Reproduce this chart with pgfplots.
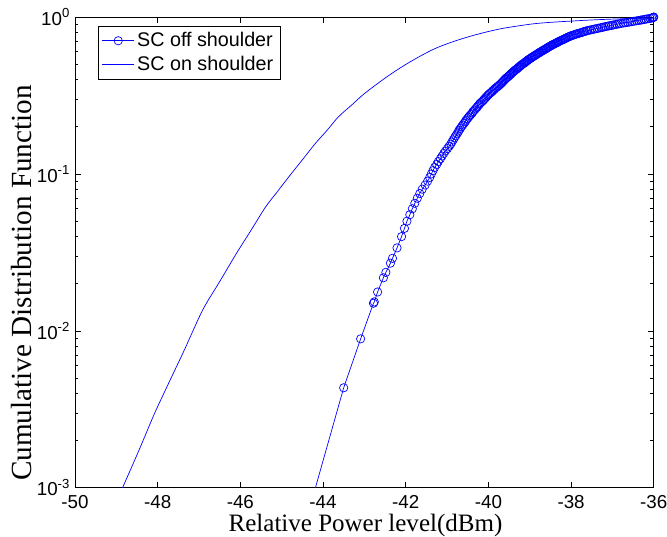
\documentclass[border=0pt]{standalone}
\usepackage{fontspec}
\setmainfont{Liberation Serif}
\setsansfont{Liberation Sans}
\usepackage{pgfplots}
\pgfplotsset{compat=1.18}

\begin{document}
\begin{tikzpicture}
\begin{axis}[
    scale only axis,
    width=416.5pt, height=338.8pt,
    ymode=log,
    xmin=-50, xmax=-36,
    ymin=1e-3, ymax=1,
    xtick={-50,-48,-46,-44,-42,-40,-38,-36},
    ytick={1e-3,1e-2,1e-1,1},
    yticklabels={10\textsuperscript{-3},10\textsuperscript{-2},10\textsuperscript{-1},10\textsuperscript{0}},
    /pgf/number format/assume math mode=true,
    tick label style={font=\sffamily\fontsize{13.5}{13.5}\selectfont},
    xticklabel style={yshift=-2.2pt},
    major tick length=4.3pt,
    minor tick length=2.5pt,
    axis line style={line width=0.6pt},
    every tick/.style={black, line width=0.5pt},
    xlabel={Relative Power level(dBm)},
    ylabel={Cumulative Distribution Function},
    xlabel style={font=\fontsize{18}{18}\selectfont, at={(axis description cs:0.502,-0.092)}, anchor=base},
    ylabel style={font=\fontsize{21}{21}\selectfont, at={(axis description cs:-0.093,0.435)}, anchor=center},
    legend style={at={(axis description cs:0.039,0.981)}, anchor=north west,
        draw=black, line width=0.5pt, fill=white,
        font=\sffamily\fontsize{14.2}{14.2}\selectfont,
        inner xsep=3pt, inner ysep=2.5pt, row sep=1.5pt, cells={anchor=west}},
    legend image code/.code={%
        \draw[mark repeat=2,mark phase=2,#1] plot coordinates {(0cm,0cm) (0.4cm,0cm) (0.8cm,0cm)};},
]

% SC off shoulder (empirical CDF, markers)
\addplot[blue, line width=0.5pt, mark=o, mark size=3pt, mark options={line width=0.5pt}] coordinates {
(-44.60,0.00041) (-43.50,0.00434) (-43.09,0.0089) (-42.78,0.0150) (-42.76,0.0153)
(-42.68,0.0177) (-42.54,0.0218) (-42.48,0.0236) (-42.37,0.0270) (-42.32,0.0290)
(-42.21,0.0338) (-42.10,0.0399) (-42.03,0.045)
(-41.97,0.050) (-41.90,0.055) (-41.84,0.060) (-41.78,0.065) (-41.72,0.070)
(-41.66,0.075) (-41.60,0.080) (-41.53,0.085) (-41.47,0.090) (-41.42,0.095)
(-41.38,0.100) (-41.34,0.105) (-41.30,0.110) (-41.25,0.115) (-41.21,0.120)
(-41.16,0.125) (-41.12,0.130) (-41.08,0.135) (-41.04,0.140) (-40.99,0.145)
(-40.95,0.150) (-40.91,0.155) (-40.88,0.160) (-40.85,0.165) (-40.82,0.170)
(-40.79,0.175) (-40.76,0.180) (-40.73,0.185) (-40.71,0.190) (-40.68,0.195)
(-40.65,0.200) (-40.62,0.205) (-40.59,0.210) (-40.56,0.215) (-40.54,0.220)
(-40.51,0.225) (-40.48,0.230) (-40.45,0.235) (-40.42,0.240) (-40.39,0.245)
(-40.37,0.250) (-40.34,0.255) (-40.31,0.260) (-40.28,0.265) (-40.26,0.270)
(-40.23,0.275) (-40.21,0.280) (-40.18,0.285) (-40.15,0.290) (-40.12,0.295)
(-40.10,0.300) (-40.07,0.305) (-40.05,0.310) (-40.02,0.315) (-40.00,0.320)
(-39.97,0.325) (-39.94,0.330) (-39.91,0.335) (-39.89,0.340) (-39.86,0.345)
(-39.84,0.350) (-39.81,0.355) (-39.78,0.360) (-39.75,0.365) (-39.73,0.370)
(-39.70,0.375) (-39.68,0.380) (-39.66,0.385) (-39.64,0.390) (-39.62,0.395)
(-39.60,0.400) (-39.58,0.405) (-39.56,0.410) (-39.53,0.415) (-39.51,0.420)
(-39.49,0.425) (-39.47,0.430) (-39.45,0.435) (-39.43,0.440) (-39.41,0.445)
(-39.39,0.450) (-39.37,0.455) (-39.35,0.460) (-39.32,0.465) (-39.30,0.470)
(-39.28,0.475) (-39.26,0.480) (-39.24,0.485) (-39.22,0.490) (-39.20,0.495)
(-39.18,0.500) (-39.15,0.505) (-39.13,0.510) (-39.11,0.515) (-39.09,0.520)
(-39.07,0.525) (-39.05,0.530) (-39.03,0.535) (-39.01,0.540) (-38.98,0.545)
(-38.96,0.550) (-38.94,0.555) (-38.92,0.560) (-38.89,0.565) (-38.87,0.570)
(-38.85,0.575) (-38.83,0.580) (-38.80,0.585) (-38.78,0.590) (-38.76,0.595)
(-38.74,0.600) (-38.71,0.605) (-38.69,0.610) (-38.67,0.615) (-38.65,0.620)
(-38.62,0.625) (-38.60,0.630) (-38.58,0.635) (-38.56,0.640) (-38.54,0.645)
(-38.52,0.650) (-38.49,0.655) (-38.47,0.660) (-38.45,0.665) (-38.43,0.670)
(-38.40,0.675) (-38.38,0.680) (-38.35,0.685) (-38.33,0.690) (-38.31,0.695)
(-38.29,0.700) (-38.26,0.705) (-38.24,0.710) (-38.21,0.715) (-38.19,0.720)
(-38.16,0.725) (-38.14,0.730) (-38.12,0.735) (-38.10,0.740) (-38.07,0.745)
(-38.05,0.750) (-38.02,0.755) (-38.00,0.760) (-37.96,0.765) (-37.93,0.770)
(-37.90,0.775) (-37.87,0.780) (-37.83,0.785) (-37.80,0.790) (-37.76,0.795)
(-37.73,0.800) (-37.70,0.805) (-37.67,0.810) (-37.63,0.815) (-37.60,0.820)
(-37.55,0.825) (-37.51,0.830) (-37.46,0.835) (-37.42,0.840) (-37.37,0.845)
(-37.33,0.850) (-37.28,0.855) (-37.24,0.860) (-37.20,0.865) (-37.16,0.870)
(-37.11,0.875) (-37.07,0.880) (-37.02,0.885) (-36.98,0.890) (-36.93,0.895)
(-36.89,0.900) (-36.84,0.905) (-36.80,0.910) (-36.74,0.915) (-36.69,0.920)
(-36.63,0.925) (-36.58,0.930) (-36.53,0.935) (-36.48,0.940) (-36.42,0.945)
(-36.37,0.950) (-36.32,0.955) (-36.28,0.960) (-36.23,0.965) (-36.19,0.970)
(-36.14,0.975) (-36.09,0.980) (-36.05,0.985) (-36.02,0.990) (-36.01,0.995)
(-36.00,1.000)
};
\addlegendentry{SC off shoulder}

% SC on shoulder
\addplot[blue, line width=0.5pt, smooth, tension=0.5] coordinates {
(-49.20,0.00062) (-48.85,0.0010) (-48.45,0.00174) (-48.07,0.0030) (-47.70,0.00485)
(-47.35,0.0076) (-46.91,0.0136) (-46.50,0.0206) (-46.10,0.0310) (-45.75,0.0434)
(-45.39,0.0616) (-45.10,0.0774) (-44.83,0.0957) (-44.50,0.123) (-44.19,0.156)
(-43.90,0.190) (-43.63,0.231) (-43.30,0.276) (-43.00,0.325) (-42.50,0.408)
(-42.10,0.480) (-41.70,0.554) (-41.30,0.628) (-40.90,0.690) (-40.50,0.746)
(-40.10,0.797) (-39.70,0.842) (-39.30,0.876) (-38.90,0.906) (-38.50,0.925)
(-38.10,0.939) (-37.50,0.958) (-37.00,0.970) (-36.50,0.979) (-36.00,0.985)
};
\addlegendentry{SC on shoulder}

\end{axis}
\pgfresetboundingbox
\path (current axis.south west) ++(-53.96pt,-35.25pt) rectangle ++(480pt,386.3pt);
\end{tikzpicture}
\end{document}
